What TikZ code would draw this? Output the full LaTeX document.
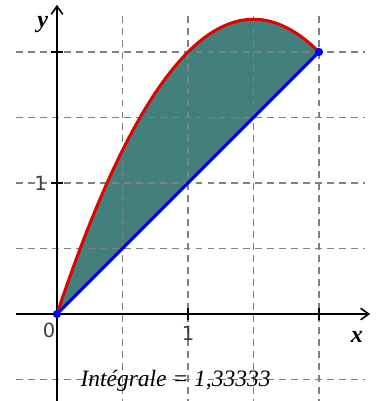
\documentclass[tikz,border=0pt]{standalone}
\usepackage{fontspec}
\setmainfont{Liberation Serif}
\newfontfamily\tickfont{DejaVu Sans}
\usepackage{tikz}
\usetikzlibrary{arrows.meta,positioning}
\definecolor{areacol}{RGB}{67,127,124}

\begin{document}
\begin{tikzpicture}[x=2cm, y=2cm,
  gridline/.style={gray, line width=0.5pt, dash pattern=on 3pt off 2.2pt},
  axis/.style={line width=0.7pt, -{Straight Barb[length=3.5pt,width=5pt]}},
  tick/.style={line width=0.7pt},
  ticklab/.style={font=\tickfont\fontsize{8.5}{9}\selectfont, text=black!75, inner sep=0pt},
  axlab/.style={font=\fontsize{10.5}{12}\selectfont\bfseries\itshape, inner sep=0pt},
  area/.style={fill=areacol},
  curveline/.style={red!90!black, line width=1.3pt},
  chord/.style={blue!85!black, line width=1.3pt},
  pt/.style={circle, fill=blue, inner sep=0pt, minimum size=3.6pt}
]
\useasboundingbox (-0.435,-0.664) rectangle (2.443,2.397);

% Area between the curve and the chord
\fill[area] plot[domain=0:2, samples=60, smooth] (\x, {3*\x-\x*\x}) -- cycle;

% Grid
\foreach \y in {-0.5,0.5,1,1.5,2}
  \draw[gridline] (-0.313,\y) -- (2.35,\y);
\foreach \x in {0.5,1,1.5,2}
  \draw[gridline] (\x,-0.7) -- (\x,2.29);

% Axes
\coordinate (O) at (0,0);
\coordinate (xend) at (2.39,0);
\coordinate (yend) at (0,2.36);
\draw[axis] (-0.313,0) -- (xend);
\draw[axis] (0,-0.7) -- (yend);
\foreach \t in {1,2} {
  \draw[tick] (\t,-0.048) -- (\t,0.048);
  \draw[tick] (-0.048,\t) -- (0.048,\t);
}
\node[axlab] (xlab) at (2.29,-0.175) {x};
\node[axlab] (ylab) at (-0.108,2.207) {y};
\node[ticklab] (lab0) at (-0.061,-0.125) {0};
\node[ticklab] (labx1) at (1,-0.145) {1};
\node[ticklab] (laby1) at (-0.125,1) {1};

% Curve and chord
\coordinate (A) at (2,2);
\draw[curveline] plot[domain=0:2, samples=60, smooth] (\x, {3*\x-\x*\x});
\draw[chord] (O) -- (A);
\node[pt] (p0) at (O) {};
\node[pt] (p1) at (A) {};

% Value of the integral
\node[font=\fontsize{10.2}{12}\selectfont\itshape, inner sep=0pt] (val) at (0.905,-0.508) {Intégrale = 1,33333};
\end{tikzpicture}
\end{document}
